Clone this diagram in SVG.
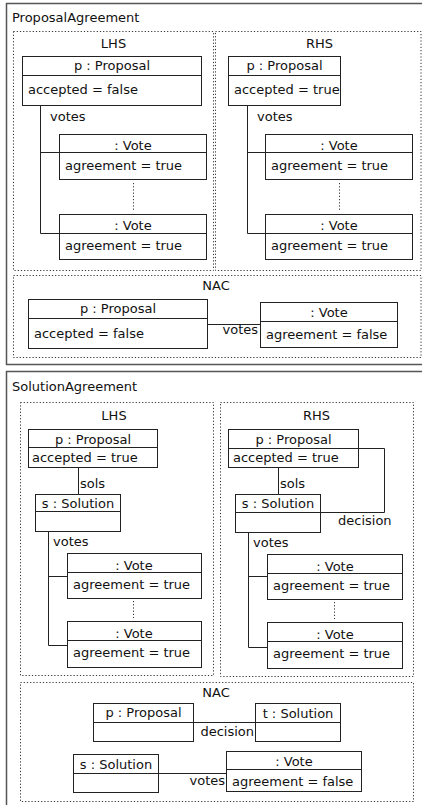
<svg xmlns="http://www.w3.org/2000/svg" width="422" height="805" viewBox="0 0 422 805">
<style>
text{font-family:"DejaVu Sans","Noto Sans",sans-serif;font-size:13px;fill:#111}
.c{text-anchor:middle}
.e{text-anchor:end}
.frame{fill:none;stroke:#555;stroke-width:1.5}
.dot{fill:none;stroke:#333;stroke-width:1;stroke-dasharray:1.2,2}
.box{fill:#fff;stroke:#222;stroke-width:1}
.ln{fill:none;stroke:#222;stroke-width:1}
</style>
<rect width="422" height="805" fill="#fff"/>

<!-- ProposalAgreement -->
<g id="ProposalAgreement">
<rect class="frame" x="6.5" y="3.5" width="420" height="361"/>
<text x="12" y="22">ProposalAgreement</text>
</g>
<g id="PA_LHS"><rect class="dot" x="13.5" y="31.5" width="200" height="239"/><text class="c" x="113.5" y="48">LHS</text></g>
<g id="PA_RHS"><rect class="dot" x="215.5" y="31.5" width="205.5" height="239"/><text class="c" x="319.5" y="48">RHS</text></g>
<g id="PA_NAC"><rect class="dot" x="13.5" y="275.5" width="407.5" height="82"/><text class="c" x="216" y="290">NAC</text></g>

<g id="connectors-top">
<path class="ln" d="M40.5,105.5V233.5H59.5M40.5,152.5H59.5"/>
<path class="dot" d="M133.5,183V210"/>
<path class="ln" d="M247.5,105.5V233.5H265.5M247.5,152.5H265.5"/>
<path class="dot" d="M339.5,183V210"/>
<path class="ln" d="M207.5,324.5H260.5"/>
<text x="50" y="121">votes</text>
<text x="257" y="121">votes</text>
<text class="e" x="258" y="334">votes</text>
</g>

<g id="PA_LHS_p"><rect class="box" x="22.5" y="56.5" width="179" height="49"/><path class="ln" d="M22.5,75.5H201.5"/><text class="c" x="112" y="70">p : Proposal</text><text x="28" y="94">accepted = false</text></g>
<g id="PA_LHS_v1"><rect class="box" x="59.5" y="134.5" width="147" height="45"/><path class="ln" d="M59.5,152.5H206.5"/><text class="c" x="133" y="149.5">: Vote</text><text x="65" y="170">agreement = true</text></g>
<g id="PA_LHS_v2"><rect class="box" x="59.5" y="214.5" width="147" height="45"/><path class="ln" d="M59.5,233.5H206.5"/><text class="c" x="133" y="230">: Vote</text><text x="65" y="250">agreement = true</text></g>

<g id="PA_RHS_p"><rect class="box" x="228.5" y="56.5" width="112" height="49"/><path class="ln" d="M228.5,75.5H340.5"/><text class="c" x="284.5" y="70">p : Proposal</text><text x="234" y="94">accepted = true</text></g>
<g id="PA_RHS_v1"><rect class="box" x="265.5" y="134.5" width="147" height="45"/><path class="ln" d="M265.5,152.5H412.5"/><text class="c" x="339" y="149.5">: Vote</text><text x="271" y="170">agreement = true</text></g>
<g id="PA_RHS_v2"><rect class="box" x="265.5" y="214.5" width="147" height="45"/><path class="ln" d="M265.5,233.5H412.5"/><text class="c" x="339" y="230">: Vote</text><text x="271" y="250">agreement = true</text></g>

<g id="PA_NAC_p"><rect class="box" x="28.5" y="299.5" width="179" height="49"/><path class="ln" d="M28.5,318.5H207.5"/><text class="c" x="118" y="313">p : Proposal</text><text x="34" y="338">accepted = false</text></g>
<g id="PA_NAC_v"><rect class="box" x="260.5" y="302.5" width="137" height="45"/><path class="ln" d="M260.5,321.5H397.5"/><text class="c" x="329" y="317">: Vote</text><text x="266" y="339">agreement = false</text></g>

<!-- SolutionAgreement -->
<g id="SolutionAgreement">
<rect class="frame" x="6.5" y="371.5" width="420" height="440"/>
<text x="12" y="391">SolutionAgreement</text>
</g>
<g id="SA_LHS"><rect class="dot" x="20.5" y="402.5" width="193" height="273"/><text class="c" x="114" y="420">LHS</text></g>
<g id="SA_RHS"><rect class="dot" x="220.5" y="402.5" width="193" height="274"/><text class="c" x="316.5" y="420">RHS</text></g>
<g id="SA_NAC"><rect class="dot" x="20.5" y="682.5" width="393" height="119"/><text class="c" x="216" y="697">NAC</text></g>

<g id="connectors-bottom">
<path class="ln" d="M78.5,467.5V494.5"/>
<path class="ln" d="M48.5,531.5V645.5H67.5M48.5,576.5H67.5"/>
<path class="dot" d="M133.5,601V618"/>
<path class="ln" d="M278.5,467.5V494.5"/>
<path class="ln" d="M358.5,448.5H384.5V512.5H320.5"/>
<path class="ln" d="M248.5,532.5V647.5H267.5M248.5,576.5H267.5"/>
<path class="dot" d="M334.5,602V619"/>
<path class="ln" d="M193.5,722.5H255.5"/>
<path class="ln" d="M158.5,773.5H226.5"/>
<text x="80" y="488">sols</text>
<text x="53" y="546">votes</text>
<text x="280" y="488">sols</text>
<text x="338" y="525">decision</text>
<text x="253" y="547">votes</text>
<text class="e" x="254" y="736">decision</text>
<text class="e" x="225" y="785">votes</text>
</g>

<g id="SA_LHS_p"><rect class="box" x="28.5" y="429.5" width="129" height="38"/><path class="ln" d="M28.5,447.5H157.5"/><text class="c" x="93" y="444">p : Proposal</text><text x="32" y="462">accepted = true</text></g>
<g id="SA_LHS_s"><rect class="box" x="35.5" y="494.5" width="85" height="37"/><path class="ln" d="M35.5,511.5H120.5"/><text class="c" x="78" y="508">s : Solution</text></g>
<g id="SA_LHS_v1"><rect class="box" x="67.5" y="553.5" width="134" height="45"/><path class="ln" d="M67.5,572.5H201.5"/><text class="c" x="134" y="570">: Vote</text><text x="73" y="589">agreement = true</text></g>
<g id="SA_LHS_v2"><rect class="box" x="67.5" y="621.5" width="134" height="46"/><path class="ln" d="M67.5,640.5H201.5"/><text class="c" x="134" y="638">: Vote</text><text x="73" y="657">agreement = true</text></g>

<g id="SA_RHS_p"><rect class="box" x="228.5" y="429.5" width="130" height="38"/><path class="ln" d="M228.5,448.5H358.5"/><text class="c" x="293.5" y="444">p : Proposal</text><text x="233" y="462">accepted = true</text></g>
<g id="SA_RHS_s"><rect class="box" x="235.5" y="494.5" width="85" height="38"/><path class="ln" d="M235.5,512.5H320.5"/><text class="c" x="278" y="508">s : Solution</text></g>
<g id="SA_RHS_v1"><rect class="box" x="267.5" y="554.5" width="135" height="45"/><path class="ln" d="M267.5,573.5H402.5"/><text class="c" x="335" y="571">: Vote</text><text x="273" y="590">agreement = true</text></g>
<g id="SA_RHS_v2"><rect class="box" x="267.5" y="622.5" width="135" height="46"/><path class="ln" d="M267.5,641.5H402.5"/><text class="c" x="335" y="639">: Vote</text><text x="273" y="658">agreement = true</text></g>

<g id="SA_NAC_p"><rect class="box" x="93.5" y="703.5" width="100" height="38"/><path class="ln" d="M93.5,722.5H193.5"/><text class="c" x="143.5" y="717">p : Proposal</text></g>
<g id="SA_NAC_t"><rect class="box" x="255.5" y="703.5" width="85" height="38"/><path class="ln" d="M255.5,722.5H340.5"/><text class="c" x="298" y="718">t : Solution</text></g>
<g id="SA_NAC_s"><rect class="box" x="73.5" y="754.5" width="85" height="38"/><path class="ln" d="M73.5,773.5H158.5"/><text class="c" x="116" y="769">s : Solution</text></g>
<g id="SA_NAC_v"><rect class="box" x="226.5" y="751.5" width="135" height="40"/><path class="ln" d="M226.5,769.5H361.5"/><text class="c" x="294" y="766">: Vote</text><text x="232" y="786">agreement = false</text></g>
</svg>
